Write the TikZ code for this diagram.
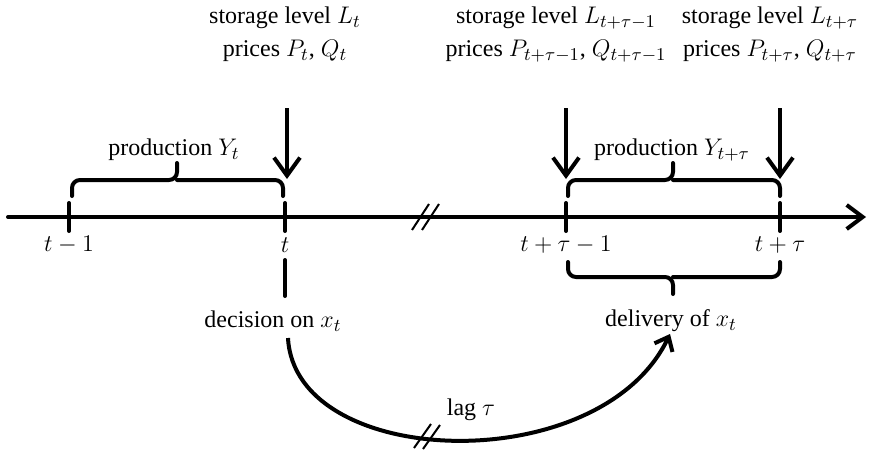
\documentclass[tikz,border=0pt]{standalone}
\usepackage{fontspec}
\setmainfont{Liberation Serif}
\DeclareMathSizes{12}{12}{9}{7}
\usetikzlibrary{arrows.meta}
\begin{document}
\begin{tikzpicture}[x=0.5pt,y=-0.5pt,
  every node/.style={font=\rmfamily\fontsize{12}{14}\selectfont, inner sep=0pt},
  thickline/.style={line width=2pt, line cap=round},
  bracket/.style={line width=2pt, line cap=round, rounded corners=4pt},
  downarrow/.style={line width=2pt, -{Straight Barb[length=9pt,width=13pt,line width=2pt]}},
  axisline/.style={line width=2pt, line cap=round, -{Straight Barb[length=8pt,width=12pt,line width=2pt]}},
  breakmark/.style={line width=1pt},
  lagarrow/.style={line width=2pt, -{Straight Barb[length=6pt,width=10pt,line width=2pt]}}]
\useasboundingbox (0,0) rectangle (885,455);

% axis
\coordinate (axstart) at (8,217);
\coordinate (axend) at (866,217);
\draw[axisline] (axstart) -- (axend);

% ticks
\foreach \n/\x in {k0/69,k1/285,k2/566,k3/780}{
  \coordinate (\n top) at (\x,203);
  \coordinate (\n bot) at (\x,231);
  \draw[thickline] (\n top) -- (\n bot);
}

% tick labels
\node (l0) at (69,245) {$t-1$};
\node (l1) at (285,245) {$t$};
\node (l2) at (566,245) {$t+\tau-1$};
\node (l3) at (780,245) {$t+\tau$};

% axis break
\coordinate (bA1) at (412,230); \coordinate (bA2) at (429,204);
\coordinate (bB1) at (422,230); \coordinate (bB2) at (439,204);
\draw[breakmark] (bA1) -- (bA2);
\draw[breakmark] (bB1) -- (bB2);

% upper braces
\draw[bracket] (72,196) -- (72,180) -- (177,180) -- (177,163);
\draw[bracket] (283,196) -- (283,180) -- (177,180);
\draw[bracket] (568,196) -- (568,180) -- (673,180) -- (673,163);
\draw[bracket] (780,196) -- (780,180) -- (673,180);

\node (prod1) at (174,150) {production $Y_t$};
\node (prod2) at (672,150) {production $Y_{t+\tau}$};

% lower brace
\draw[bracket] (568,262) -- (568,277) -- (673,277) -- (673,294);
\draw[bracket] (780,262) -- (780,277) -- (673,277);

% top labels
\node (s1) at (285,18) {storage level $L_t$};
\node (p1) at (285,51) {prices $P_t$, $Q_t$};
\node (s2) at (556,18) {storage level $L_{t+\tau-1}$};
\node (p2) at (556,51) {prices $P_{t+\tau-1}$, $Q_{t+\tau-1}$};
\node (s3) at (770,18) {storage level $L_{t+\tau}$};
\node (p3) at (770,51) {prices $P_{t+\tau}$, $Q_{t+\tau}$};

\coordinate (a1s) at (287,108); \coordinate (a1e) at (287,179);
\coordinate (a2s) at (566,108); \coordinate (a2e) at (566,179);
\coordinate (a3s) at (780,108); \coordinate (a3e) at (780,179);
\draw[downarrow] (a1s) -- (a1e);
\draw[downarrow] (a2s) -- (a2e);
\draw[downarrow] (a3s) -- (a3e);

% decision line segment
\coordinate (dsegA) at (285,260);
\coordinate (dsegB) at (285,296);
\draw[thickline] (dsegA) -- (dsegB);

\node (dec) at (273,321) {decision on $x_t$};
\node (del) at (671,321) {delivery of $x_t$};

% lag arc
\coordinate (arcS) at (288,338);
\coordinate (arcE) at (670,334);
\draw[lagarrow] (arcS) .. controls (295,470) and (600,480) .. (arcE);
\coordinate (lA1) at (414,448); \coordinate (lA2) at (431,424);
\coordinate (lB1) at (423,449); \coordinate (lB2) at (440,425);
\draw[breakmark] (lA1) -- (lA2);
\draw[breakmark] (lB1) -- (lB2);
\node (lag) at (471,410) {lag $\tau$};
\end{tikzpicture}
\end{document}
